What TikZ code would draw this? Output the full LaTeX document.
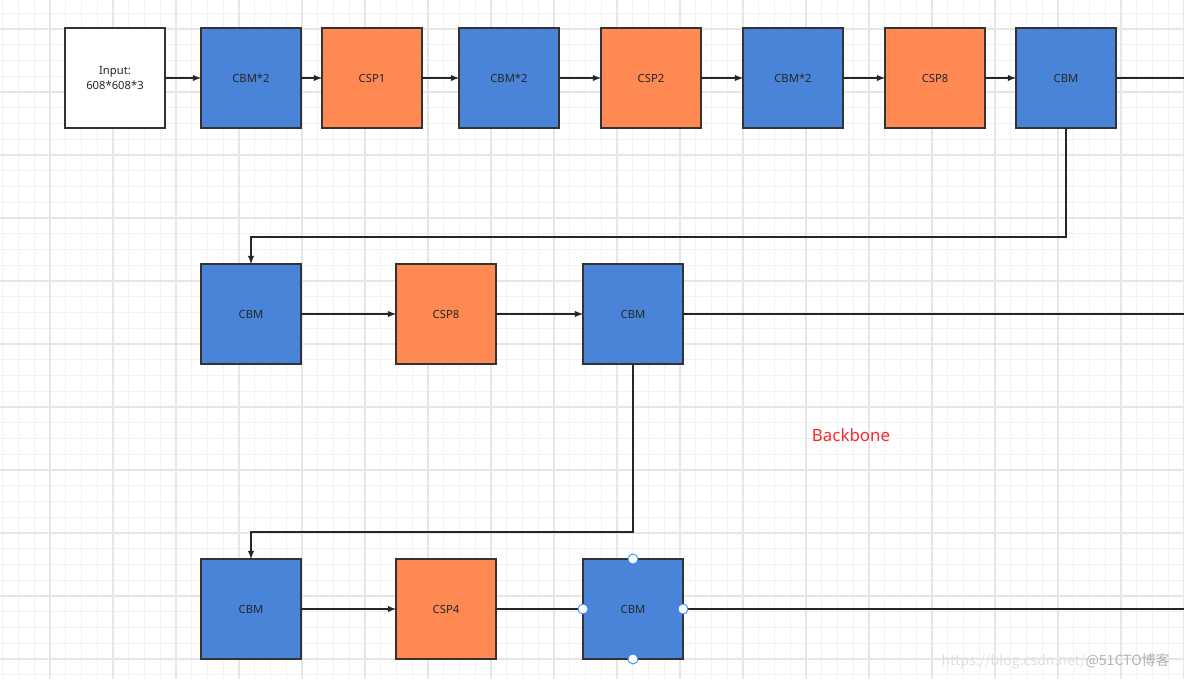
\documentclass[tikz,border=0pt]{standalone}
\usepackage{fontspec}
\setmainfont{Noto Sans}
\newfontfamily\cjkfont{Noto Sans CJK SC}
\usepackage{xcolor}
\usetikzlibrary{arrows,positioning}
\definecolor{cbmblue}{RGB}{74,132,216}
\definecolor{csporange}{RGB}{255,137,82}
\definecolor{gridminor}{RGB}{242,242,242}
\definecolor{gridmajor}{RGB}{230,230,230}
\definecolor{handleblue}{RGB}{60,140,255}
\tikzset{%
	block/.style    = {draw=black!80, rectangle, minimum width=2cm, minimum height=2cm, inner sep=0pt, outer sep=0pt, line width=0.6pt, text=black!85, font=\fontsize{6.4}{9}\selectfont, align=center},
	cbm/.style      = {block, fill=cbmblue}, % CBM block
	csp/.style      = {block, fill=csporange}, % CSP block
	input/.style    = {block, fill=white}, % Input
	arrow/.style    = {line width=0.6pt, black!85, -latex},
	wire/.style     = {line width=0.6pt, black!85},
	handle/.style   = {draw=handleblue, fill=white, circle, line width=0.5pt, minimum size=0.2cm, inner sep=0pt},
	minorgrid/.style = {gridminor, line width=0.5pt},
	majorgrid/.style = {gridmajor, line width=0.8pt},
}

\begin{document}
\begin{tikzpicture}[x=0.02cm, y=-0.02cm]
	\useasboundingbox (0,0) rectangle (1184,679);
	\fill[white] (0,0) rectangle (1184,679);
	% grid
	\begin{scope}
	\clip (0,0) rectangle (1184,679);
	\foreach \i in {0,...,75} \draw[minorgrid] ({2.75+15.75*\i},0) -- ++(0,679);
	\foreach \i in {0,...,43} \draw[minorgrid] (0,{13.25+15.75*\i}) -- ++(1184,0);
	\foreach \i in {0,...,18} \draw[majorgrid] ({50+63*\i},0) -- ++(0,679);
	\foreach \i in {0,...,10} \draw[majorgrid] (0,{29+63*\i}) -- ++(1184,0);
	\end{scope}

	% first row
	\node[input] (in) at (115,78) {Input:\\608*608*3};
	\node[cbm] (cbm1) at (251,78) {CBM*2};
	\node[csp] (csp1) at (372,78) {CSP1};
	\node[cbm] (cbm2) at (509,78) {CBM*2};
	\node[csp] (csp2) at (651,78) {CSP2};
	\node[cbm] (cbm3) at (793,78) {CBM*2};
	\node[csp] (csp8) at (935,78) {CSP8};
	\node[cbm] (cbm4) at (1066,78) {CBM};
	\coordinate (out1) at (1184,78);
	\draw[arrow] (in) -- (cbm1);
	\draw[arrow] (cbm1) -- (csp1);
	\draw[arrow] (csp1) -- (cbm2);
	\draw[arrow] (cbm2) -- (csp2);
	\draw[arrow] (csp2) -- (cbm3);
	\draw[arrow] (cbm3) -- (csp8);
	\draw[arrow] (csp8) -- (cbm4);
	\draw[wire] (cbm4) -- (out1);

	% second row
	\node[cbm] (cbm5) at (251,314) {CBM};
	\node[csp] (csp8b) at (446,314) {CSP8};
	\node[cbm] (cbm6) at (633,314) {CBM};
	\coordinate (out2) at (1184,315);
	\draw[arrow] (cbm4.south) -- ++(0,109) -| (cbm5.north);
	\draw[arrow] (cbm5) -- (csp8b);
	\draw[arrow] (csp8b) -- (cbm6);
	\draw[wire] (cbm6.east) -- (cbm6.east -| out2);

	\node[text={rgb,255:red,250;green,40;blue,40}, font=\fontsize{9.6}{11}\selectfont] (bb) at (851,435) {Backbone};

	% third row
	\node[cbm] (cbm7) at (251,609) {CBM};
	\node[csp] (csp4) at (446,609) {CSP4};
	\node[cbm] (cbm8) at (633,609) {CBM};
	\coordinate (out3) at (1184,609);
	\draw[arrow] (cbm6.south) -- ++(0,168) -| (cbm7.north);
	\draw[arrow] (cbm7) -- (csp4);
	\draw[wire] (csp4) -- (cbm8);
	\draw[wire] (cbm8) -- (out3);
	\foreach \a in {north,south,east,west}
		\node[handle] at (cbm8.\a) {};

	\node[anchor=east, font=\cjkfont\fontsize{8}{9}\selectfont] (wm) at (1176,661)
		{\textcolor{black!12}{https://blog.csdn.net/}\textcolor{black!30}{@51CTO博客}};
\end{tikzpicture}
\end{document}
